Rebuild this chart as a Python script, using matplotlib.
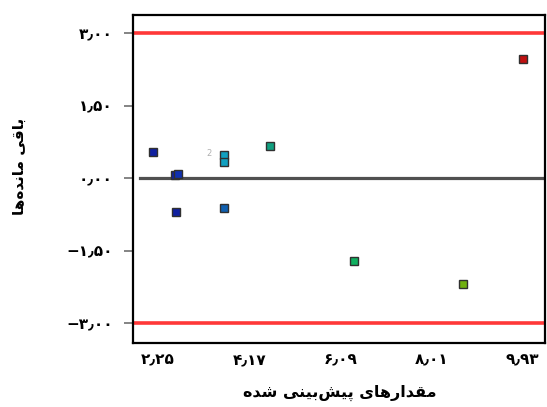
import matplotlib
matplotlib.use("Agg")
import matplotlib.pyplot as plt
from matplotlib.ticker import FuncFormatter

plt.rcParams['font.family'] = ['DejaVu Sans']

# مقدار پیش‌بینی شده و باقی مانده برای هر نقطه
pred = [2.14, 2.60, 2.67, 2.63, 3.64, 3.64, 3.64, 4.60, 6.39, 8.68, 9.95]
resid = [0.54, 0.06, 0.08, -0.70, 0.48, 0.33, -0.62, 0.66, -1.72, -2.19, 2.46]
point_colors = ['#1020a0', '#1020a0', '#1030b0', '#1020a0', '#10a0c0', '#10a0c0',
                '#1060b0', '#10a080', '#10b060', '#70b010', '#c01010']

x_ticks = [2.25, 4.17, 6.09, 8.01, 9.93]
y_ticks = [-3.0, -1.5, 0.0, 1.5, 3.0]
limit = 3.0

x_title = "مقدارهای پیش‌بینی شده"
y_title = "باقی مانده‌ها"

# شکل‌های حروف: (تنها، پایانی، آغازی، میانی)
FORMS = {
    'ا': ('\uFE8D', '\uFE8E', None, None),
    'ب': ('\uFE8F', '\uFE90', '\uFE91', '\uFE92'),
    'پ': ('\uFB56', '\uFB57', '\uFB58', '\uFB59'),
    'ق': ('\uFED5', '\uFED6', '\uFED7', '\uFED8'),
    'ی': ('\uFBFC', '\uFBFD', '\uFBFE', '\uFBFF'),
    'م': ('\uFEE1', '\uFEE2', '\uFEE3', '\uFEE4'),
    'ن': ('\uFEE5', '\uFEE6', '\uFEE7', '\uFEE8'),
    'د': ('\uFEA9', '\uFEAA', None, None),
    'ه': ('\uFEE9', '\uFEEA', '\uFEEB', '\uFEEC'),
    'ر': ('\uFEAD', '\uFEAE', None, None),
    'ش': ('\uFEB5', '\uFEB6', '\uFEB7', '\uFEB8'),
}


def joins_next(ch):
    return ch in FORMS and FORMS[ch][2] is not None


def shape(text):
    out = []
    for i, ch in enumerate(text):
        if ch not in FORMS:
            if ch != '\u200c':
                out.append(ch)
            continue
        prev = text[i - 1] if i > 0 else ''
        nxt = text[i + 1] if i + 1 < len(text) else ''
        left = joins_next(prev)
        right = joins_next(ch) and nxt in FORMS
        iso, fin, ini, med = FORMS[ch]
        if left and right:
            out.append(med)
        elif left:
            out.append(fin)
        elif right:
            out.append(ini)
        else:
            out.append(iso)
    return ''.join(reversed(out))


def fa_num(v, pos=None):
    s = f"{abs(v):.2f}".replace('.', '\u066B')
    s = s.translate(str.maketrans('0123456789', '۰۱۲۳۴۵۶۷۸۹'))
    return ('\u2212' + s) if v < -1e-9 else s


fig = plt.figure(figsize=(5.47, 4.07), dpi=100)
ax = fig.add_axes([0.2431, 0.1572, 0.7532, 0.8059])

ax.axhline(limit, color='#ff3838', lw=2.6, zorder=2)
ax.axhline(-limit, color='#ff3838', lw=2.6, zorder=2)
ax.axhline(0, xmin=0.017, color='#505050', lw=2.3, zorder=2)

for x, y, c in zip(pred, resid, point_colors):
    ax.plot(x, y, 's', ms=5.2, mfc=c, mec='#303030', mew=1.0, zorder=3)

ax.annotate("2", (pred[4], resid[4]), xytext=(-11, 1), textcoords='offset points',
            fontsize=6, color='#b0b0b0', ha='center', va='center')

ax.set_xlim(1.72, 10.41)
ax.set_ylim(-3.414, 3.372)
ax.set_xticks(x_ticks)
ax.set_yticks(y_ticks)
ax.xaxis.set_major_formatter(FuncFormatter(fa_num))
ax.yaxis.set_major_formatter(FuncFormatter(fa_num))
ax.tick_params(axis='x', length=0, pad=7, labelsize=11)
ax.tick_params(axis='y', length=6.5, width=1.2, color='#707070', pad=8, labelsize=11)
for lab in ax.get_xticklabels() + ax.get_yticklabels():
    lab.set_fontweight('bold')

for sp in ax.spines.values():
    sp.set_linewidth(1.6)
    sp.set_color('black')

fig.text(0.622, 0.035, shape(x_title), ha='center', va='center',
         fontsize=11.5, fontweight='bold')
fig.text(0.036, 0.59, shape(y_title), ha='center', va='center',
         fontsize=11, fontweight='bold', rotation=90)

fig.savefig("out.png", dpi=100)
